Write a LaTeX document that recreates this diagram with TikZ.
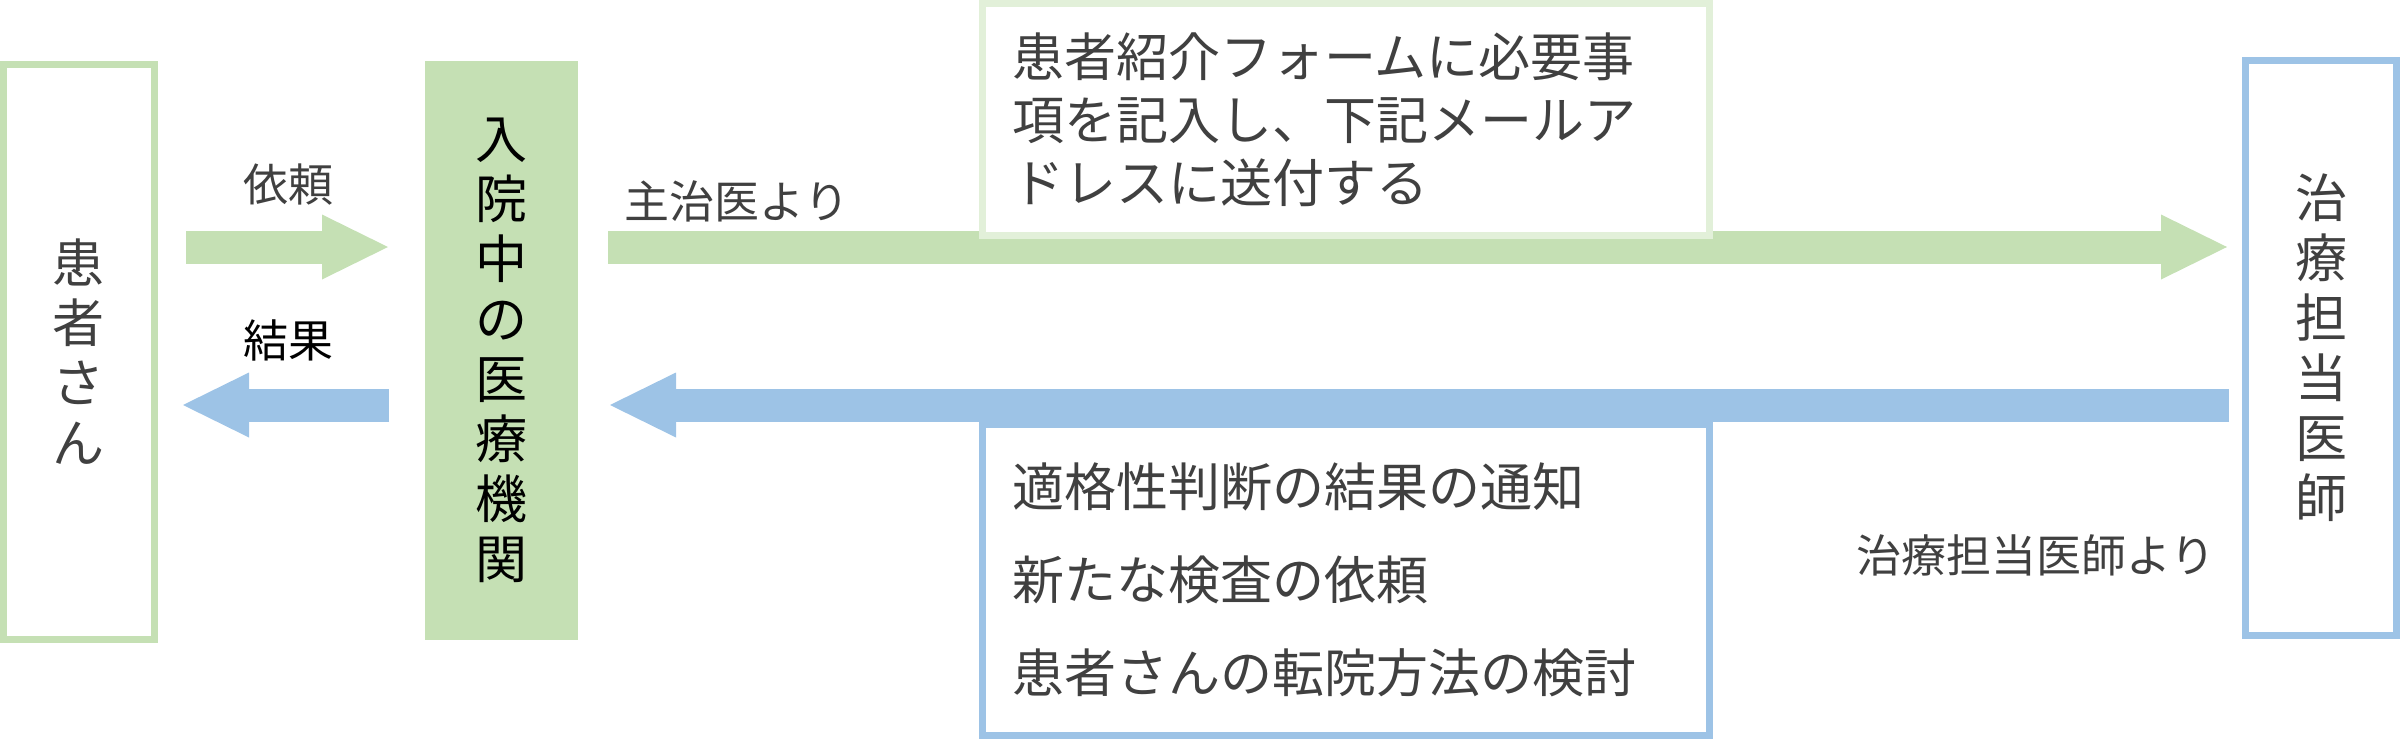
\documentclass[tikz,border=0pt]{standalone}
\usepackage{fontspec}
\setmainfont{Noto Sans CJK JP}
\usetikzlibrary{arrows.meta}
\definecolor{grn}{HTML}{C5E0B4}
\definecolor{pgrn}{HTML}{E2F0D9}
\definecolor{blu}{HTML}{9DC3E6}
\definecolor{txt}{HTML}{404040}

\begin{document}
\begin{tikzpicture}[x=0.1mm,y=-0.1mm,
  vbox/.style={draw, line width=0.7mm, fill=white, anchor=north west, outer sep=0pt,
    inner sep=0pt, align=center, text=txt, font=\fontsize{14.8}{17.07}\selectfont},
  tbox/.style={draw, line width=0.7mm, fill=white, anchor=north west, outer sep=0pt,
    inner xsep=2.95mm, inner ysep=0pt, align=left, text=txt, text width=66.8mm},
  lbl/.style={text=txt, inner sep=0pt, font=\fontsize{12.8}{15}\selectfont},
  fat/.style={line width=3.3mm, -{Triangle[length=6.6mm,width=6.5mm,line width=0pt]}}]
\useasboundingbox (0,0) rectangle (2400,750);
\coordinate (upr) at (0,247);
\coordinate (lwr) at (0,405);
% three parties
\node[vbox, draw=grn, minimum width=15.1mm, minimum height=57.5mm] (pat) at (3.5,64.5) {患\\者\\さ\\ん};
\node[vbox, draw=none, fill=grn, text=black, minimum width=15.3mm, minimum height=57.9mm] (hosp) at (425,61) {入\\院\\中\\の\\医\\療\\機\\関};
\node[vbox, draw=blu, minimum width=15.1mm, minimum height=57.5mm] (doc) at (2245.5,60.5) {治\\療\\担\\当\\医\\師};
% arrows
\draw[fat, grn, shorten <=3.15mm, shorten >=3.7mm] (pat.east |- upr) -- (hosp.west |- upr);
\draw[fat, blu, shorten <=3.6mm, shorten >=2.85mm] (hosp.west |- lwr) -- (pat.east |- lwr);
\draw[fat, grn, shorten <=3mm, shorten >=1.85mm] (hosp.east |- upr) -- (doc.west |- upr);
\draw[fat, blu, shorten <=1.65mm, shorten >=3.2mm] (doc.west |- lwr) -- (hosp.east |- lwr);
% labels
\node[lbl] (req) at (288,185) {依頼};
\node[lbl, text=black] (res) at (288,340) {結果};
\node[lbl] (frm) at (737,201) {主治医より};
\node[lbl] (frd) at (2036,555) {治療担当医師より};
% text boxes
\node[tbox, draw=pgrn, minimum height=23.2mm, font=\fontsize{14.8}{17.9}\selectfont] (form) at (982.5,3.5)
  {患者紹介フォームに必要事\\項を記入し、下記メールア\\ドレスに送付する};
\node[tbox, draw=blu, minimum height=31.1mm, font=\fontsize{14.8}{26.5}\selectfont] (reply) at (982.5,424.5)
  {適格性判断の結果の通知\\新たな検査の依頼\\患者さんの転院方法の検討};
\end{tikzpicture}
\end{document}
